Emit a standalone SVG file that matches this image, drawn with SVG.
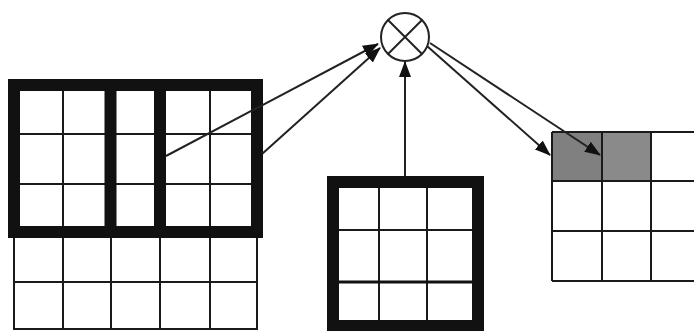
<svg xmlns="http://www.w3.org/2000/svg" width="694" height="331" viewBox="0 0 694 331">
<defs>
<style>
.g{fill:none;stroke:#1a1a1a;stroke-width:2}
.t{fill:none;stroke:#111;stroke-width:12}
.c{fill:none;stroke:#222;stroke-width:2}
</style>
<marker id="ah" markerWidth="16" markerHeight="12" refX="15" refY="6" orient="auto" markerUnits="userSpaceOnUse">
<path d="M0,0 L16,6 L0,12 Z" fill="#111"/>
</marker>
</defs>
<rect width="694" height="331" fill="#fff"/>
<g id="input">
<path class="g" d="M14,85 V330 M63,85 V330 M111,85 V330 M160,85 V330 M210,85 V330 M257,85 V330 M14,134 H257 M14,184 H257 M14,282 H257 M14,329 H257"/>
<rect class="t" x="14" y="85" width="243" height="147"/>
<path class="t" d="M110.5,85 V232 M160,85 V232"/>
</g>
<g id="kernel">
<path class="g" d="M379,182 V327 M427,182 V327 M333,230 H478"/>
<path fill="none" stroke="#111" stroke-width="3" d="M333,282 H478"/>
<rect class="t" x="333" y="182" width="145" height="144"/>
</g>
<g id="multiply">
<circle class="c" cx="405" cy="37" r="24" fill="#fff"/>
<path class="c" d="M388,20 L422,54 M422,20 L388,54"/>
</g>
<g id="output">
<rect x="552" y="132" width="50" height="49" fill="#808080"/>
<rect x="602" y="132" width="49" height="49" fill="#8a8a8a"/>
<path class="g" d="M552,132 H694 M552,181 H694 M552,231 H694 M552,281 H694 M552,132 V281 M602,132 V281 M651,132 V281"/>
</g>
<g id="connectors">
<line class="c" x1="166" y1="156" x2="378" y2="44" marker-end="url(#ah)"/>
<line class="c" x1="262" y1="154" x2="380" y2="48" marker-end="url(#ah)"/>
<line class="c" x1="405" y1="176" x2="405" y2="62" marker-end="url(#ah)"/>
<line class="c" x1="427" y1="46" x2="550" y2="155" marker-end="url(#ah)"/>
<line class="c" x1="430" y1="43" x2="600" y2="155" marker-end="url(#ah)"/>
</g>
</svg>
